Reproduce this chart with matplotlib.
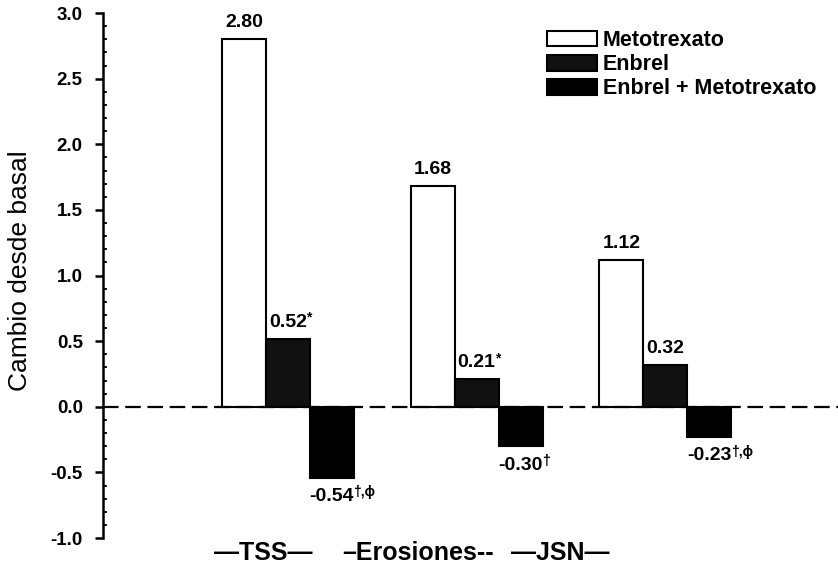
import matplotlib.pyplot as plt
import numpy as np
from matplotlib.ticker import MultipleLocator

grupos = ['\u2014TSS\u2014', '\u2013Erosiones--', '\u2014JSN\u2014']
series = ['Metotrexato', 'Enbrel', 'Enbrel + Metotrexato']
metotrexato = [2.80, 1.68, 1.12]
enbrel = [0.52, 0.21, 0.32]
combinado = [-0.54, -0.30, -0.23]
etiq_met = ['2.80', '1.68', '1.12']
etiq_enb = ['0.52', '0.21', '0.32']
sup_enb = ['*', '*', '']
etiq_comb = ['-0.54', '-0.30', '-0.23']
sup_comb = ['\u2020,\u03d5', '\u2020', '\u2020,\u03d5']

plt.rcParams['font.family'] = ['Liberation Sans', 'DejaVu Sans']

fig = plt.figure(figsize=(8.38, 5.78), dpi=100)
fig.patch.set_facecolor('white')
ax = fig.add_axes([0.1229, 0.0692, 0.8771, 0.9083])

x = np.arange(len(grupos))
w = 0.233
b1 = ax.bar(x - w, metotrexato, w, color='white', edgecolor='black', linewidth=1.5, label=series[0])
b2 = ax.bar(x, enbrel, w, color='#111111', edgecolor='black', linewidth=1.5, label=series[1])
b3 = ax.bar(x + w, combinado, w, color='black', edgecolor='black', linewidth=1.5, label=series[2])


def etiqueta(r, t, sup, arriba):
    xc = r.get_x() + r.get_width() / 2
    if arriba:
        txt = ax.text(xc, r.get_height() + 0.06, t, ha='center', va='bottom',
                      fontsize=14, fontweight='bold')
    else:
        txt = ax.text(xc, r.get_height() - 0.08, t, ha='center', va='top',
                      fontsize=14, fontweight='bold')
    if sup:
        ax.annotate(sup, xy=(1, 1), xycoords=txt, xytext=(-0.5, 2), textcoords='offset points',
                    ha='left', va='top', fontsize=10, fontweight='bold')


for r, t, s in zip(b1, etiq_met, ['', '', '']):
    etiqueta(r, t, s, True)
for r, t, s in zip(b2, etiq_enb, sup_enb):
    etiqueta(r, t, s, True)
for r, t, s in zip(b3, etiq_comb, sup_comb):
    etiqueta(r, t, s, False)

ax.axhline(0, color='black', linestyle=(0, (7, 3)), linewidth=1.6)

ax.set_xlim(-0.98, 2.915)
ax.set_ylim(-1.0, 3.0)
yt = np.arange(-1.0, 3.01, 0.5)
ax.set_yticks(yt)
ax.set_yticklabels(['%.1f' % v for v in yt], fontweight='bold', fontsize=13.5)
ax.yaxis.set_minor_locator(MultipleLocator(0.1))
ax.tick_params(axis='y', which='major', length=6, width=1.8, direction='out', pad=8.5)
ax.tick_params(axis='y', which='minor', length=3, width=1.3, direction='in')

ax.set_xticks([-0.132, 0.689, 1.441])
ax.set_xticklabels(grupos, fontweight='bold', fontsize=18)
ax.tick_params(axis='x', length=0, pad=2)

for s in ['top', 'right', 'bottom']:
    ax.spines[s].set_visible(False)
ax.spines['left'].set_linewidth(1.8)

ax.set_ylabel('Cambio desde basal', fontsize=19)
ax.yaxis.set_label_coords(-0.097, 0.51)

leg = fig.legend(handles=[b1, b2, b3], labels=series, loc='upper left',
                 bbox_to_anchor=(547 / 838, 1 - 30 / 578), frameon=False,
                 prop={'weight': 'bold', 'size': 15.5}, handlelength=2.3, handleheight=0.75,
                 handletextpad=0.3, labelspacing=0.15, borderpad=0, borderaxespad=0)

plt.savefig('out.png', dpi=100)
plt.close(fig)
